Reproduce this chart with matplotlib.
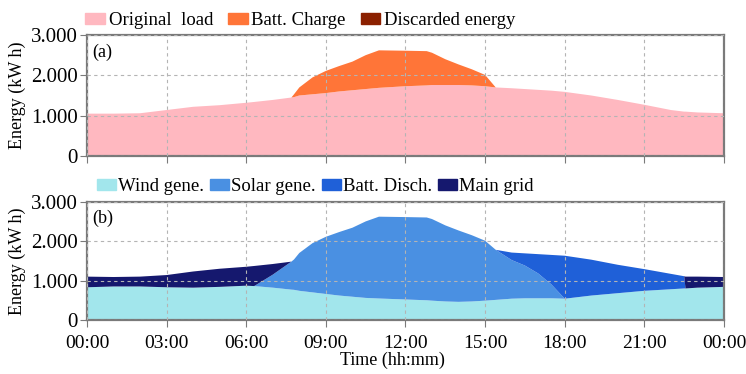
import matplotlib
matplotlib.use("Agg")
import matplotlib.pyplot as plt
from matplotlib.patches import Patch

plt.rcParams['font.family'] = ['Liberation Serif', 'DejaVu Serif']

# time axis (hours of the day)
hours = [0, 1, 2, 3, 4, 5, 6, 6.3, 7, 7.7, 7.8, 8, 8.5, 9, 9.5, 10, 10.5, 11, 12, 12.8,
         13, 13.5, 14, 14.5, 15, 15.4, 16, 16.5, 17, 17.5, 18, 19, 20, 21, 22,
         22.5, 22.55, 23, 24]

# (a) original load and battery charge (kWh)
load = [1050, 1050, 1060, 1140, 1220, 1260, 1320, 1340, 1390, 1450, 1460, 1500, 1530,
        1560, 1600, 1630, 1660, 1690, 1730, 1750, 1760, 1760, 1760, 1750, 1730, 1700,
        1680, 1660, 1640, 1620, 1590, 1500, 1390, 1270, 1140, 1100, 1100, 1080, 1060]
charge = [0, 0, 0, 0, 0, 0, 0, 0, 0, 0, 70, 200, 420, 550, 630, 710, 840, 930, 880,
          850, 800, 640, 510, 400, 280, 0, 0, 0, 0, 0, 0, 0, 0, 0, 0, 0, 0, 0, 0]

# (b) supply mix (kWh)
wind = [830, 850, 850, 830, 820, 840, 870, 860, 820, 770, 765, 740, 700, 660, 620, 590,
        560, 545, 520, 500, 490, 470, 460, 470, 490, 510, 540, 550, 550, 550, 540, 620,
        680, 740, 780, 800, 800, 820, 840]
solar = [0, 0, 0, 0, 0, 0, 0, 0, 330, 710, 770, 960, 1250, 1450, 1610, 1750, 1940,
         2075, 2090, 2100, 2070, 1930, 1810, 1680, 1520, 1270, 980, 830, 630, 350, 0,
         0, 0, 0, 0, 0, 0, 0, 0]
disch = [0, 0, 0, 0, 0, 0, 0, 0, 0, 0, 0, 0, 0, 0, 0, 0, 0, 0, 0, 0, 0, 0, 0, 0, 0, 0,
         190, 310, 490, 750, 1090, 910, 720, 550, 390, 310, 0, 0, 0]
grid = [270, 240, 250, 310, 410, 460, 480, 510, 270, 0, 0, 0, 0, 0, 0, 0, 0, 0, 0, 0,
        0, 0, 0, 0, 0, 0, 0, 0, 0, 0, 0, 0, 0, 0, 0, 0, 300, 280, 250]

xticks = [0, 3, 6, 9, 12, 15, 18, 21, 24]
xticklabels = ["00:00", "03:00", "06:00", "09:00", "12:00", "15:00", "18:00", "21:00", "00:00"]
yticks = [0, 1000, 2000, 3000]
yticklabels = ["0", "1.000", "2.000", "3.000"]

c_load, c_charge, c_disc = "#ffb8c0", "#ff7538", "#8b2000"
c_wind, c_solar, c_disch, c_grid = "#a2e6ec", "#4a90e2", "#1f60d8", "#15186e"

fig = plt.figure(figsize=(7.46, 3.74), dpi=100, facecolor="white")
ax1 = fig.add_axes([0.1166, 0.5829, 0.8539, 0.3235])
ax2 = fig.add_axes([0.1166, 0.1444, 0.8539, 0.3163])

ax1.stackplot(hours, load, charge, colors=[c_load, c_charge], linewidth=0)
ax2.stackplot(hours, wind, solar, disch, grid,
              colors=[c_wind, c_solar, c_disch, c_grid], linewidth=0)

for ax, tag in [(ax1, "(a)"), (ax2, "(b)")]:
    ax.set_xlim(0, 24)
    ax.set_ylim(0, 3000)
    ax.set_xticks(xticks)
    ax.set_yticks(yticks)
    ax.set_yticklabels(yticklabels, fontsize=15)
    ax.set_axisbelow(False)
    ax.grid(True, linestyle=(0, (3, 3)), color="#b4b4b4", linewidth=0.8)
    for s in ax.spines.values():
        s.set_color("#7a7a7a")
        s.set_linewidth(1.6)
    ax.tick_params(axis="y", direction="out", length=5, color="#7a7a7a", pad=1.5)
    ax.tick_params(axis="x", direction="out", length=5, color="#7a7a7a", pad=6)
    ax.set_ylabel("Energy (kW h)", fontsize=13, labelpad=4)
    ax.text(0.008, 0.93, tag, transform=ax.transAxes, fontsize=13, va="top", ha="left")

ax1.set_xticklabels([])
ax2.set_xticklabels(xticklabels, fontsize=14)
fig.text(392 / 746, 1 - 360 / 374, "Time (hh:mm)", fontsize=13, ha="center", va="center")

h1 = [Patch(color=c_load), Patch(color=c_charge), Patch(color=c_disc)]
ax1.legend(h1, ["Original  load", "Batt. Charge", "Discarded energy"], ncol=3,
           loc="lower left", bbox_to_anchor=(-0.003, 1.05), frameon=False, fontsize=13.5,
           handlelength=1.05, handleheight=0.55, handletextpad=0.2, columnspacing=0.8,
           borderaxespad=0, borderpad=0)
h2 = [Patch(color=c_wind), Patch(color=c_solar), Patch(color=c_disch), Patch(color=c_grid)]
ax2.legend(h2, ["Wind gene.", "Solar gene.", "Batt. Disch.", "Main grid"], ncol=4,
           loc="lower left", bbox_to_anchor=(0.0157, 1.055), frameon=False, fontsize=13.5,
           handlelength=1.0, handleheight=0.55, handletextpad=0.1, columnspacing=0.35,
           borderaxespad=0, borderpad=0)

fig.savefig("out.png", dpi=100)
